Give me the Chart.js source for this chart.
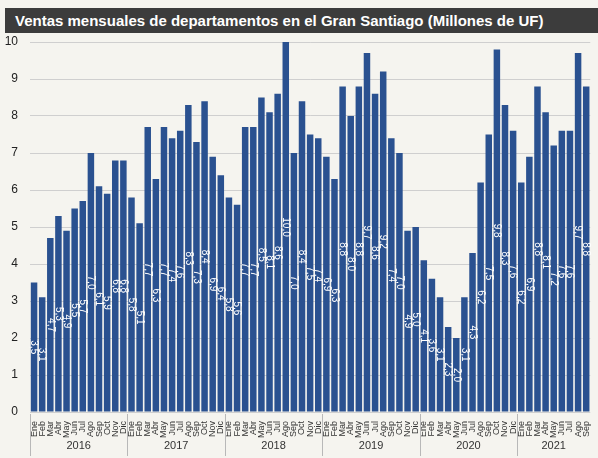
<!DOCTYPE html>
<html>
<head>
<meta charset="utf-8">
<script src="https://cdn.jsdelivr.net/npm/chart.js@4.4.0/dist/chart.umd.min.js"></script>
<style>
  body { margin: 0; background: #f5f4ef; }
  #wrap { position: relative; width: 598px; height: 458px; background: #f5f4ef; }
  #title {
    position: absolute; left: 5px; top: 8px; width: 593px; height: 25px;
    background: #3c3c3c; color: #fff; font: bold 15px "Liberation Sans", Arial, sans-serif;
    line-height: 25px; padding-left: 10px; box-sizing: border-box; white-space: nowrap;
  }
  canvas { position: absolute; left: 0; top: 0; }
</style>
</head>
<body>
<div id="wrap">
  <canvas id="chart" width="598" height="458"></canvas>
  <div id="title">Ventas mensuales de departamentos en el Gran Santiago (Millones de UF)</div>
</div>
<script>
const months = ['Ene','Feb','Mar','Abr','May','Jun','Jul','Ago','Sep','Oct','Nov','Dic'];
const years = ['2016','2017','2018','2019','2020','2021'];
const v2016 = [3.5, 3.1, 4.7, 5.3, 4.9, 5.5, 5.7, 7.0, 6.1, 5.9, 6.8, 6.8];
const v2017 = [5.8, 5.1, 7.7, 6.3, 7.7, 7.4, 7.6, 8.3, 7.3, 8.4, 6.9, 6.4];
const v2018 = [5.8, 5.6, 7.7, 7.7, 8.5, 8.1, 8.6, 10.0, 7.0, 8.4, 7.5, 7.4];
const v2019 = [6.9, 6.3, 8.8, 8.0, 8.8, 9.7, 8.6, 9.2, 7.4, 7.0, 4.9, 5.0];
const v2020 = [4.1, 3.6, 3.1, 2.3, 2.0, 3.1, 4.3, 6.2, 7.5, 9.8, 8.3, 7.6];
const v2021 = [6.2, 6.9, 8.8, 8.1, 7.2, 7.6, 7.6, 9.7, 8.8];

const values = [...v2016, ...v2017, ...v2018, ...v2019, ...v2020, ...v2021];
const labels = values.map((v, i) => months[i % 12]);
const font = '"Liberation Sans", Arial, sans-serif';

// value labels inside the bars, rotated, at mid height
const barLabels = {
  id: 'barLabels',
  afterDatasetsDraw(chart) {
    const ctx = chart.ctx;
    const meta = chart.getDatasetMeta(0);
    const y = chart.scales.y;
    ctx.save();
    ctx.fillStyle = '#ffffff';
    ctx.font = '10px ' + font;
    ctx.textAlign = 'center';
    ctx.textBaseline = 'middle';
    meta.data.forEach((bar, i) => {
      const v = values[i];
      const yy = y.getPixelForValue(v / 2);
      ctx.save();
      ctx.translate(bar.x, yy);
      ctx.rotate(Math.PI / 2);
      ctx.fillText(v.toFixed(1).replace('.', ','), 0, 0);
      ctx.restore();
    });
    ctx.restore();
  }
};

// year row with separators under the month labels
const yearRow = {
  id: 'yearRow',
  afterDraw(chart) {
    const ctx = chart.ctx;
    const x = chart.scales.x;
    const area = chart.chartArea;
    const step = x.getPixelForValue(1) - x.getPixelForValue(0);
    ctx.save();
    ctx.strokeStyle = '#b8b8b8';
    ctx.lineWidth = 1;
    ctx.fillStyle = '#333';
    ctx.font = '11px ' + font;
    ctx.textAlign = 'center';
    ctx.textBaseline = 'middle';
    years.forEach((yr, k) => {
      const start = k * 12;
      const end = Math.min(start + 12, values.length);
      const left = x.getPixelForValue(start) - step / 2;
      const right = x.getPixelForValue(end - 1) + step / 2;
      const lx = Math.round(left) + 0.5;
      ctx.beginPath();
      ctx.moveTo(lx, area.bottom + 2);
      ctx.lineTo(lx, area.bottom + 44);
      ctx.stroke();
      ctx.fillText(yr, (left + right) / 2, area.bottom + 34);
    });
    ctx.restore();
  }
};

new Chart(document.getElementById('chart'), {
  type: 'bar',
  data: {
    labels: labels,
    datasets: [{
      data: values,
      backgroundColor: '#2a5190',
      barPercentage: 0.8,
      categoryPercentage: 1.0
    }]
  },
  options: {
    responsive: false,
    animation: false,
    layout: { padding: { top: 42, left: 0, right: 0, bottom: 0 } },
    plugins: { legend: { display: false }, tooltip: { enabled: false } },
    scales: {
      x: {
        grid: { display: false },
        border: { display: false },
        ticks: {
          autoSkip: false, minRotation: 90, maxRotation: 90,
          padding: 1, color: '#333', font: { family: font, size: 9 }
        },
        afterFit(scale) { scale.height = 46; }
      },
      y: {
        min: 0, max: 10,
        grid: { color: '#cfcfcf', drawTicks: false },
        border: { display: false },
        ticks: { stepSize: 1, padding: 12, color: '#222', font: { family: font, size: 12 } },
        afterFit(scale) { scale.width = 30; }
      }
    }
  },
  plugins: [barLabels, yearRow]
});
</script>
</body>
</html>
